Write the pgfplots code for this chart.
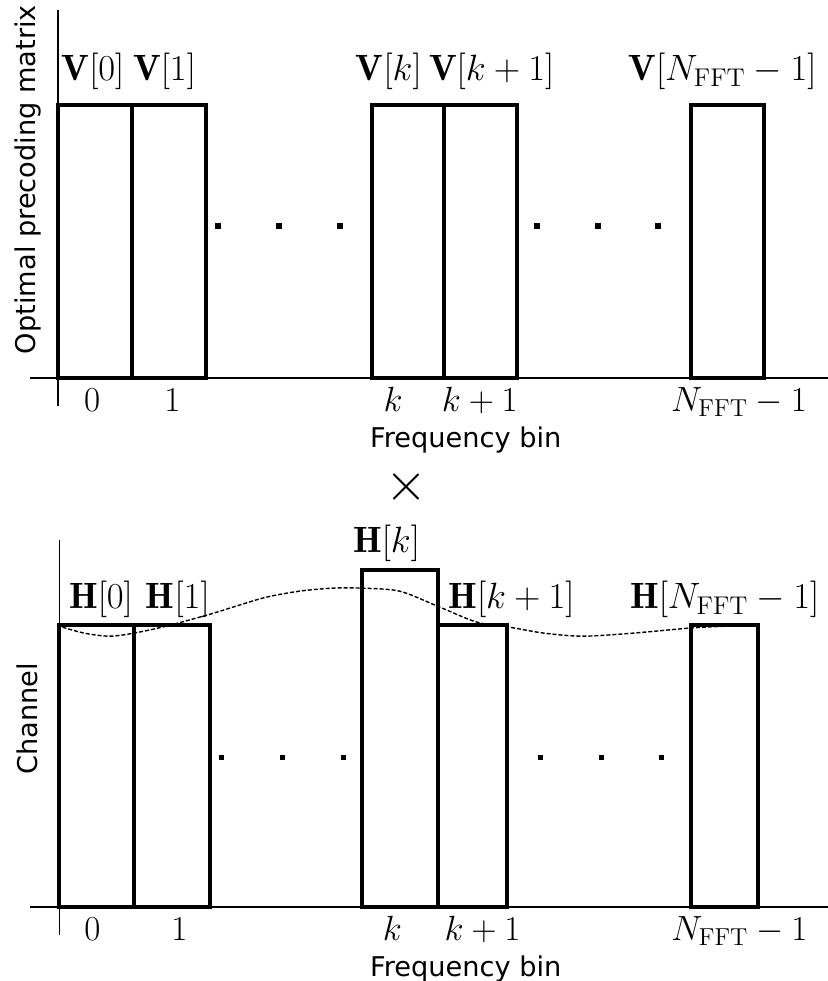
\RequirePackage{fix-cm}
\documentclass[border=0pt]{standalone}
\usepackage{fontspec}
\usepackage{pgfplots}
\pgfplotsset{compat=1.18}
\newfontfamily\dejavu{DejaVu Sans}

\pgfplotsset{
  binaxis/.style={
    x=36.75pt, y=136.5pt,
    axis lines=middle,
    axis line style={-, line width=0.6pt},
    ytick=\empty,
    major tick length=0pt,
    xticklabels={$0$,$1$,$k$,$k+1$,$N_{\mathrm{FFT}}-1$},
    tick label style={font=\fontsize{17.5}{21}\selectfont},
    xticklabel style={anchor=base, yshift=-16.5pt},
    label style={font=\dejavu\fontsize{13.6}{16}\selectfont},
    clip=false,
    anchor=origin,
  },
  bar/.style={black, line width=2pt, line join=miter},
  dots/.style={only marks, mark=square*, mark size=1.1pt, black},
}
\tikzset{lbl/.style={anchor=base, font=\fontsize{18.3}{22}\selectfont}}

\begin{document}
\begin{tikzpicture}
\useasboundingbox (0,0) rectangle (414pt,-490.5pt);

% ---------------- top: optimal precoding matrix ----------------
\begin{axis}[binaxis, at={(29pt,-189pt)},
  xmin=-0.381, xmax=10.476, ymin=-0.1026, ymax=1.348,
  xtick={0.463,1.558,4.558,5.74,9.265},
  xlabel={Frequency bin},
  ylabel={Optimal precoding matrix},
  xlabel style={at={(axis description cs:0.546,0.0707)}, anchor=base, yshift=-34.5pt},
  ylabel style={at={(axis description cs:-0.003,0.572)}, anchor=center, rotate=90},
]
\addplot[bar] coordinates {(0,1) (1,1)} \closedcycle;
\addplot[bar] coordinates {(1,1) (2.01,1)} \closedcycle;
\addplot[bar] coordinates {(4.272,1) (5.252,1)} \closedcycle;
\addplot[bar] coordinates {(5.252,1) (6.245,1)} \closedcycle;
\addplot[bar] coordinates {(8.612,1) (9.605,1)} \closedcycle;
\addplot[dots] coordinates {(2.177,0.557) (3.007,0.557) (3.837,0.557) (6.517,0.557) (7.347,0.557) (8.163,0.557)};
\node[lbl] at (axis cs:0.476,1.088) {$\mathbf{V}[0]$};
\node[lbl] at (axis cs:1.45,1.088) {$\mathbf{V}[1]$};
\node[lbl] at (axis cs:4.50,1.088) {$\mathbf{V}[k]$};
\node[lbl] at (axis cs:5.90,1.088) {$\mathbf{V}[k+1]$};
\node[lbl] at (axis cs:9.04,1.088) {$\mathbf{V}[N_{\mathrm{FFT}}-1]$};
\node[font=\fontsize{27}{27}\selectfont, inner sep=0pt] at (axis cs:4.748,-0.399) {$\times$};
\end{axis}

% ---------------- bottom: channel ----------------
\begin{axis}[binaxis, at={(29.75pt,-453.5pt)},
  xmin=-0.401, xmax=10.456, ymin=-0.1026, ymax=1.344,
  xtick={0.449,1.633,4.53,5.755,9.25},
  xlabel={Frequency bin},
  ylabel={Channel},
  xlabel style={at={(axis description cs:0.546,0.0709)}, anchor=base, yshift=-34.5pt},
  ylabel style={at={(axis description cs:-0.003,0.548)}, anchor=center, rotate=90},
]
\addplot[bar] coordinates {(0,1.033) (1.007,1.033)} \closedcycle;
\addplot[bar] coordinates {(1.007,1.033) (2.054,1.033)} \closedcycle;
\addplot[bar] coordinates {(4.109,1.234) (5.143,1.234)} \closedcycle;
\addplot[bar] coordinates {(5.143,1.033) (6.095,1.033)} \closedcycle;
\addplot[bar] coordinates {(8.585,1.033) (9.497,1.033)} \closedcycle;
\addplot[black, line width=0.7pt, dash pattern=on 2pt off 1pt, smooth, tension=0.5] coordinates {
  (0.041,1.025) (0.340,1.003) (0.680,0.992) (1.007,1.003) (1.456,1.029)
  (2.054,1.073) (2.449,1.106) (2.816,1.135) (3.265,1.157) (3.714,1.168)
  (4.109,1.168) (4.626,1.157) (5.143,1.102) (5.673,1.044) (6.122,1.025)
  (6.599,1.003) (7.116,0.992) (7.796,1.003) (8.585,1.022) (9.075,1.029)};
\addplot[dots] coordinates {(2.204,0.549) (3.034,0.549) (3.864,0.549) (6.544,0.549) (7.374,0.549) (8.190,0.549)};
\node[lbl] at (axis cs:0.565,1.092) {$\mathbf{H}[0]$};
\node[lbl] at (axis cs:1.61,1.092) {$\mathbf{H}[1]$};
\node[lbl] at (axis cs:4.449,1.297) {$\mathbf{H}[k]$};
\node[lbl] at (axis cs:6.15,1.092) {$\mathbf{H}[k+1]$};
\node[lbl] at (axis cs:9.05,1.092) {$\mathbf{H}[N_{\mathrm{FFT}}-1]$};
\end{axis}
\end{tikzpicture}
\end{document}
